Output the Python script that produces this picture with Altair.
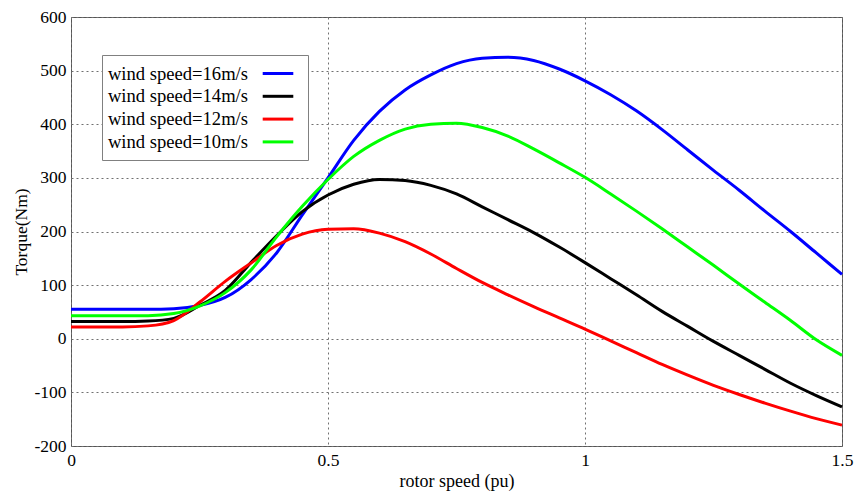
import altair as alt
import pandas as pd

# rotor speed (pu)
X = [0, 0.05, 0.1, 0.15, 0.2, 0.25, 0.3, 0.35, 0.4, 0.45, 0.5, 0.55, 0.6, 0.65, 0.7,
     0.75, 0.8, 0.85, 0.9, 0.95, 1.0, 1.05, 1.1, 1.15, 1.2, 1.25, 1.3, 1.35, 1.4, 1.45, 1.5]

# Torque (Nm) per wind speed
T16 = [55, 55, 55, 55, 56, 62, 77, 110, 160, 231, 300, 370, 424, 464, 492, 513, 523, 525,
       519, 503, 481, 455, 425, 390, 352, 314, 277, 238, 200, 160, 120]
T14 = [32, 32, 32, 33, 38, 62, 90, 142, 192, 237, 268, 288, 297, 295, 286, 270, 246, 222,
       198, 171, 142, 112, 82, 51, 23, -5, -31, -57, -83, -106, -127]
T12 = [22, 22, 22, 24, 34, 68, 107, 141, 174, 195, 204, 205, 197, 181, 158, 131, 105, 82,
       60, 39, 18, -4, -26, -48, -68, -87, -104, -120, -135, -149, -161]
T10 = [43, 43, 43, 43, 47, 61, 86, 128, 190, 247, 297, 340, 370, 391, 400, 402, 394, 378,
       354, 328, 301, 270, 238, 205, 171, 137, 102, 68, 34, -2, -31]

SERIES = ["wind speed=16m/s", "wind speed=14m/s", "wind speed=12m/s", "wind speed=10m/s"]
COLORS = ["#0000ff", "#000000", "#ff0000", "#00ff00"]
X_TICKS = [0, 0.5, 1, 1.5]
Y_TICKS = [-200, -100, 0, 100, 200, 300, 400, 500, 600]

rows = []
for name, vals in zip(SERIES, [T16, T14, T12, T10]):
    for x, y in zip(X, vals):
        rows.append({"speed": x, "torque": y, "series": name})
df = pd.DataFrame(rows)

FONT = "Liberation Serif"

chart = alt.Chart(df).mark_line(strokeWidth=3, interpolate="monotone").encode(
    x=alt.X("speed:Q", scale=alt.Scale(domain=[0, 1.5], nice=False),
            axis=alt.Axis(values=X_TICKS, title="rotor speed (pu)", labelFlush=False,
                          labelOverlap=False, labelExpr="datum.value + ''",
                          titlePadding=4, labelFont=FONT, titleFont=FONT)),
    y=alt.Y("torque:Q", scale=alt.Scale(domain=[-200, 600], nice=False),
            axis=alt.Axis(values=Y_TICKS, title="Torque(Nm)", labelExpr="datum.value + ''",
                          labelOverlap=False, titlePadding=3, labelFont=FONT,
                          titleFont=FONT)),
    color=alt.Color("series:N", scale=alt.Scale(domain=SERIES, range=COLORS),
                    legend=alt.Legend(title=None, orient="none", legendX=31, legendY=38,
                                      symbolType="M-1.7,0L1.7,0", symbolSize=324,
                                      symbolStrokeWidth=3, labelAlign="right",
                                      labelOffset={"expr": "-40.5"}, symbolOffset=157.5,
                                      padding=8, rowPadding=1.8, labelFontSize=18.6,
                                      labelFont=FONT, labelColor="#000000",
                                      strokeColor="#808080", fillColor="#ffffff",
                                      labelLimit=400)),
).properties(
    width=771, height=429,
    autosize=alt.AutoSizeParams(type="none"),
    padding={"left": 63, "top": 9, "right": 12, "bottom": 52},
).configure(
    font=FONT
).configure_view(
    stroke="#555555", strokeWidth=1
).configure_axis(
    labelFont=FONT, titleFont=FONT, labelFontSize=17.5, titleFontSize=17.5,
    labelColor="#000000", titleColor="#000000", titleFontWeight="normal",
    domain=False, ticks=False, labelPadding=5,
    grid=True, gridColor="#707070", gridDash=[2, 3], gridWidth=1,
).configure_axisX(titleFontSize=18)

chart.save("out.html", embed_options={"renderer": "svg", "actions": False})
